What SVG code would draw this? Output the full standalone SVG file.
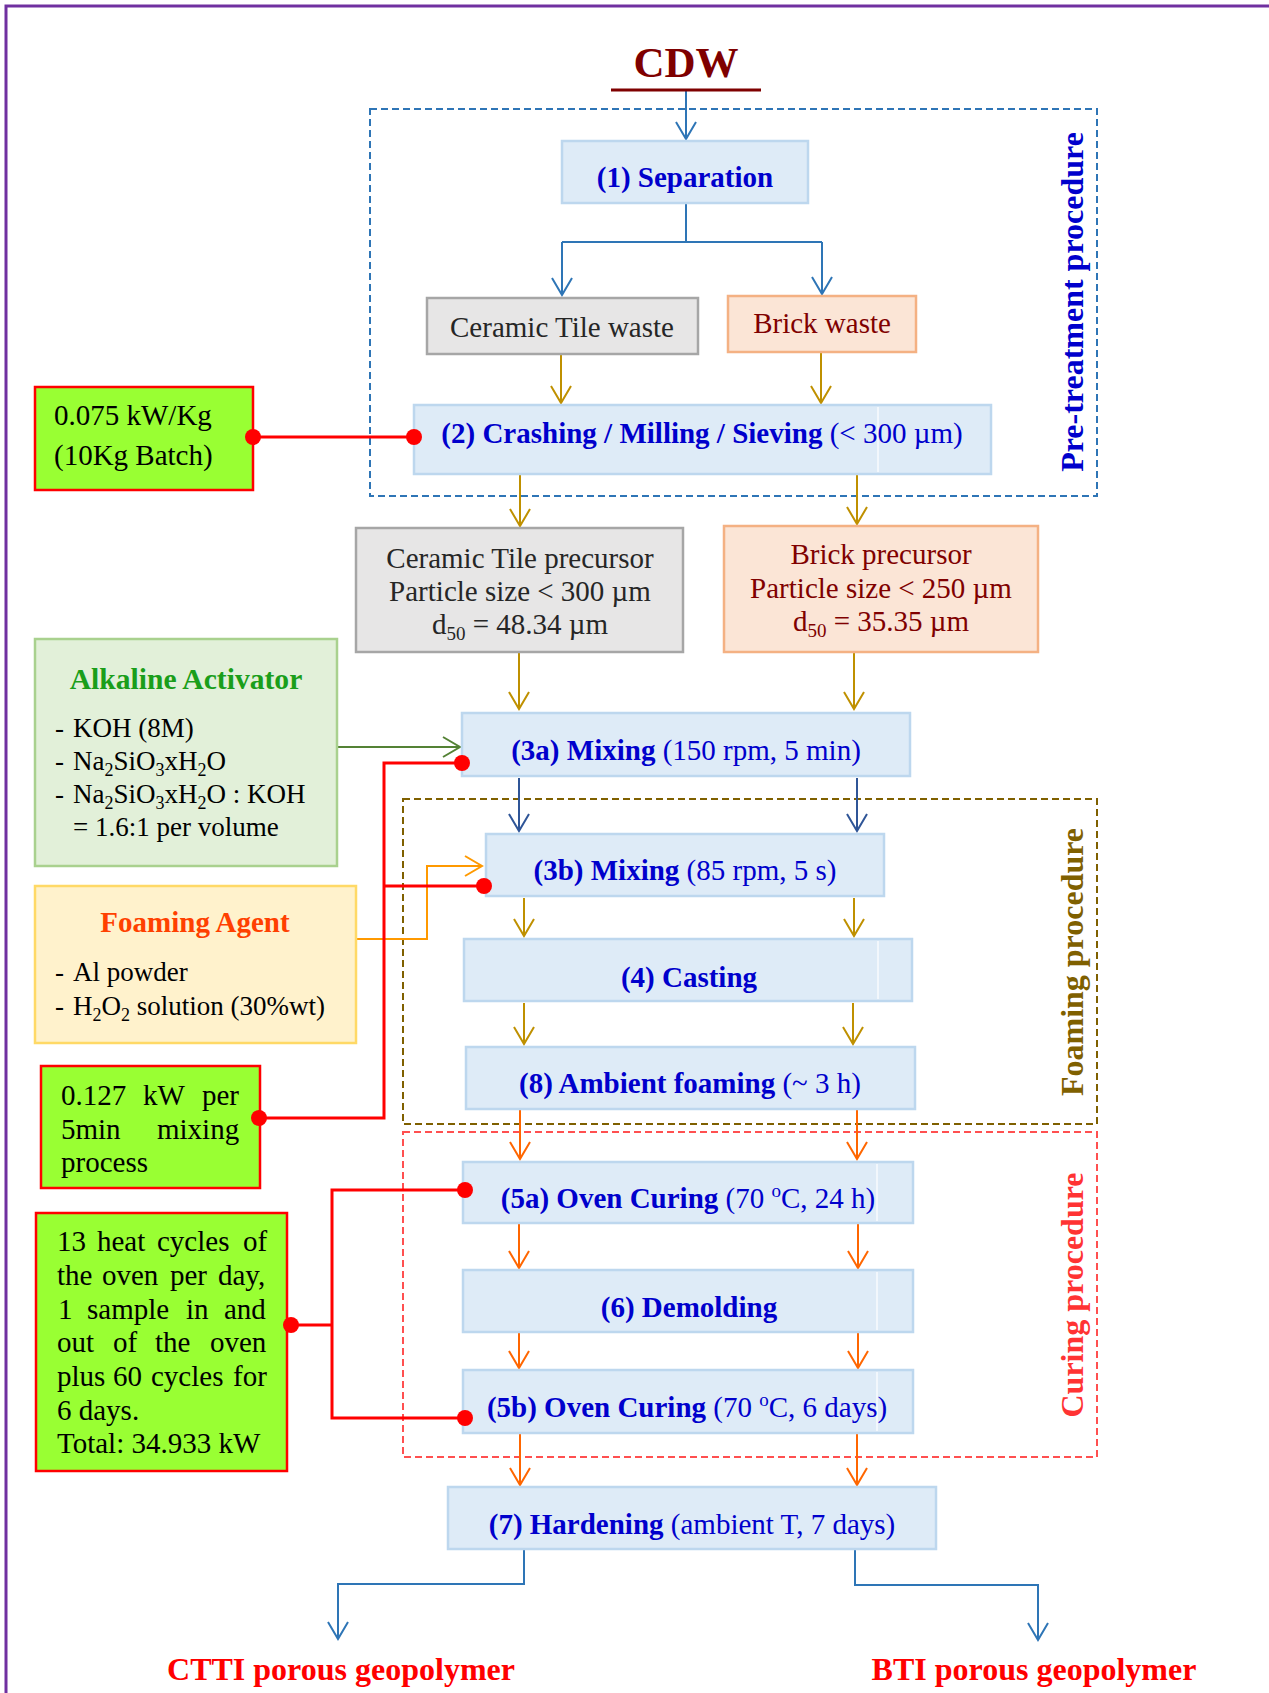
<svg xmlns="http://www.w3.org/2000/svg" width="1269" height="1693" viewBox="0 0 1269 1693">
<style>
text{font-family:"Liberation Serif","Times New Roman",serif;font-size:29px}
.b{font-weight:bold}
.blue{fill:#0000cc}
.t43{font-size:43px}
.t32{font-size:32px}
.t27{font-size:27px}
.t295{font-size:29.6px}
.step{fill:#deebf7;stroke:#bdd7ee;stroke-width:2.5}
.gray{fill:#e7e6e6;stroke:#a6a6a6;stroke-width:2.5}
.peach{fill:#fbe5d6;stroke:#f4b183;stroke-width:2.5}
.green{fill:#e2f0d9;stroke:#a9d18e;stroke-width:2.5}
.yellow{fill:#fff2cc;stroke:#ffd966;stroke-width:2.5}
.energy{fill:#99ff33;stroke:#ff0000;stroke-width:2.5}
.art{stroke:#ffffff;stroke-width:1.2}
.ln{fill:none;stroke-width:2}
.cb{stroke:#2e75b6}
.cg{stroke:#bf9000}
.cd{stroke:#2f5597}
.co{stroke:#ff6600}
.cgr{stroke:#548235}
.ca{stroke:#ff9900}
.red{fill:none;stroke:#ff0000;stroke-width:3}
.dot{fill:#ff0000}
.dash{fill:none;stroke-width:2;stroke-dasharray:7 4}
.vlab{font-size:32px;font-weight:bold}
</style>
<defs>
<marker id="aB" markerUnits="userSpaceOnUse" viewBox="-20 -12 22 24" refX="0" refY="0" markerWidth="22" markerHeight="24" orient="auto"><path d="M-17,-10 L0,0 L-17,10" fill="none" stroke="#2e75b6" stroke-width="2"/></marker>
<marker id="aG" markerUnits="userSpaceOnUse" viewBox="-20 -12 22 24" refX="0" refY="0" markerWidth="22" markerHeight="24" orient="auto"><path d="M-17,-10 L0,0 L-17,10" fill="none" stroke="#bf9000" stroke-width="2"/></marker>
<marker id="aD" markerUnits="userSpaceOnUse" viewBox="-20 -12 22 24" refX="0" refY="0" markerWidth="22" markerHeight="24" orient="auto"><path d="M-17,-10 L0,0 L-17,10" fill="none" stroke="#2f5597" stroke-width="2"/></marker>
<marker id="aO" markerUnits="userSpaceOnUse" viewBox="-20 -12 22 24" refX="0" refY="0" markerWidth="22" markerHeight="24" orient="auto"><path d="M-17,-10 L0,0 L-17,10" fill="none" stroke="#ff6600" stroke-width="2"/></marker>
<marker id="aGr" markerUnits="userSpaceOnUse" viewBox="-20 -12 22 24" refX="0" refY="0" markerWidth="22" markerHeight="24" orient="auto"><path d="M-17,-10 L0,0 L-17,10" fill="none" stroke="#548235" stroke-width="2"/></marker>
<marker id="aA" markerUnits="userSpaceOnUse" viewBox="-20 -12 22 24" refX="0" refY="0" markerWidth="22" markerHeight="24" orient="auto"><path d="M-17,-10 L0,0 L-17,10" fill="none" stroke="#ff9900" stroke-width="2"/></marker>
</defs>
<rect width="1269" height="1693" fill="#ffffff"/>
<path d="M6,1693 V6 H1269" fill="none" stroke="#7030a0" stroke-width="3"/>

<g id="groups">
<rect class="dash" x="370" y="109" width="727" height="387" stroke="#2e75b6"/>
<rect class="dash" x="403" y="799" width="694" height="325" stroke="#7f6000"/>
<rect class="dash" x="403" y="1132" width="694" height="325" stroke="#ff5050"/>
<text class="vlab" fill="#0000cc" transform="translate(1083,302) rotate(-90)" text-anchor="middle">Pre-treatment procedure</text>
<text class="vlab" fill="#7f6000" transform="translate(1083,962) rotate(-90)" text-anchor="middle">Foaming procedure</text>
<text class="vlab" fill="#ff3333" transform="translate(1083,1295) rotate(-90)" text-anchor="middle">Curing procedure</text>
</g>

<g id="connectors">
<path class="ln cb" d="M686,91 V139" marker-end="url(#aB)"/>
<path class="ln cb" d="M686,203 V242"/>
<path class="ln cb" d="M562,242 H822" stroke-width="3"/>
<path class="ln cb" d="M562,242 V295" marker-end="url(#aB)"/>
<path class="ln cb" d="M822,242 V294" marker-end="url(#aB)"/>
<path class="ln cg" d="M561,354 V403" marker-end="url(#aG)"/>
<path class="ln cg" d="M821,352 V403" marker-end="url(#aG)"/>
<path class="ln cg" d="M520,474 V526" marker-end="url(#aG)"/>
<path class="ln cg" d="M857,474 V524" marker-end="url(#aG)"/>
<path class="ln cg" d="M519,652 V709" marker-end="url(#aG)"/>
<path class="ln cg" d="M854,652 V709" marker-end="url(#aG)"/>
<path class="ln cgr" d="M337,747 H460" marker-end="url(#aGr)"/>
<path class="ln cd" d="M519,778 V831" marker-end="url(#aD)"/>
<path class="ln cd" d="M857,778 V831" marker-end="url(#aD)"/>
<path class="ln ca" d="M356,939 H427 V866 H482" marker-end="url(#aA)"/>
<path class="ln cg" d="M524,898 V936" marker-end="url(#aG)"/>
<path class="ln cg" d="M854,898 V936" marker-end="url(#aG)"/>
<path class="ln cg" d="M524,1003 V1044" marker-end="url(#aG)"/>
<path class="ln cg" d="M853,1003 V1044" marker-end="url(#aG)"/>
<path class="ln co" d="M520,1110 V1159" marker-end="url(#aO)"/>
<path class="ln co" d="M857,1110 V1159" marker-end="url(#aO)"/>
<path class="ln co" d="M519,1224 V1268" marker-end="url(#aO)"/>
<path class="ln co" d="M858,1224 V1268" marker-end="url(#aO)"/>
<path class="ln co" d="M519,1333 V1368" marker-end="url(#aO)"/>
<path class="ln co" d="M858,1333 V1368" marker-end="url(#aO)"/>
<path class="ln co" d="M520,1434 V1485" marker-end="url(#aO)"/>
<path class="ln co" d="M857,1434 V1485" marker-end="url(#aO)"/>
<path class="ln cb" d="M524,1550 V1584 H338 V1639" stroke-width="2.5" marker-end="url(#aB)"/>
<path class="ln cb" d="M855,1550 V1585 H1038 V1640" stroke-width="2.5" marker-end="url(#aB)"/>
<path class="red" d="M253,437 H414"/>
<path class="red" d="M259,1118 H384 V763 H462"/>
<path class="red" d="M384,886 H484"/>
<path class="red" d="M291,1325 H332"/>
<path class="red" d="M465,1190 H332 V1418 H465"/>
</g>

<g id="cdw">
<text x="686" y="77" text-anchor="middle" class="b t43" fill="#7f0000">CDW</text>
<path d="M611,90 H761" stroke="#7f0000" stroke-width="3"/>
</g>

<g id="separation">
<rect class="step" x="562" y="141" width="246" height="62"/>
<text x="685" y="187" text-anchor="middle" class="b blue">(1) Separation</text>
</g>

<g id="ceramic-waste">
<rect class="gray" x="427" y="298" width="271" height="56"/>
<text x="562" y="337" text-anchor="middle" fill="#262626">Ceramic Tile waste</text>
</g>

<g id="brick-waste">
<rect class="peach" x="728" y="296" width="188" height="56"/>
<text x="822" y="333" text-anchor="middle" fill="#800000">Brick waste</text>
</g>

<g id="crashing">
<rect class="step" x="414" y="405" width="577" height="69"/>
<line class="art" x1="878" y1="407" x2="878" y2="472"/>
<text x="702" y="443" text-anchor="middle" class="blue"><tspan class="b">(2) Crashing / Milling / Sieving</tspan> (&lt; 300 µm)</text>
</g>

<g id="energy-1">
<rect class="energy" x="35" y="387" width="218" height="103"/>
<text x="54" y="425">0.075 kW/Kg</text>
<text x="54" y="465">(10Kg Batch)</text>
<circle class="dot" cx="253" cy="437" r="8"/>
<circle class="dot" cx="414" cy="437" r="8"/>
</g>

<g id="ceramic-precursor">
<rect class="gray" x="356" y="528" width="327" height="124"/>
<text x="520" y="568" text-anchor="middle" fill="#262626">Ceramic Tile precursor</text>
<text x="520" y="601" text-anchor="middle" fill="#262626">Particle size &lt; 300 µm</text>
<text x="520" y="634" text-anchor="middle" fill="#262626">d<tspan dy="6" font-size="19">50</tspan><tspan dy="-6"> = 48.34 µm</tspan></text>
</g>

<g id="brick-precursor">
<rect class="peach" x="724" y="526" width="314" height="126"/>
<text x="881" y="564" text-anchor="middle" fill="#800000">Brick precursor</text>
<text x="881" y="598" text-anchor="middle" fill="#800000">Particle size &lt; 250 µm</text>
<text x="881" y="631" text-anchor="middle" fill="#800000">d<tspan dy="6" font-size="19">50</tspan><tspan dy="-6"> = 35.35 µm</tspan></text>
</g>

<g id="alkaline-activator">
<rect class="green" x="35" y="639" width="302" height="227"/>
<text x="186" y="689" text-anchor="middle" class="b t295" fill="#1a9e1a">Alkaline Activator</text>
<text class="t27" x="55" y="737">-</text><text class="t27" x="73" y="737">KOH (8M)</text>
<text class="t27" x="55" y="770">-</text><text class="t27" x="73" y="770">Na<tspan dy="6" font-size="18">2</tspan><tspan dy="-6">SiO</tspan><tspan dy="6" font-size="18">3</tspan><tspan dy="-6">xH</tspan><tspan dy="6" font-size="18">2</tspan><tspan dy="-6">O</tspan></text>
<text class="t27" x="55" y="803">-</text><text class="t27" x="73" y="803">Na<tspan dy="6" font-size="18">2</tspan><tspan dy="-6">SiO</tspan><tspan dy="6" font-size="18">3</tspan><tspan dy="-6">xH</tspan><tspan dy="6" font-size="18">2</tspan><tspan dy="-6">O : KOH</tspan></text>
<text class="t27" x="73" y="836">= 1.6:1 per volume</text>
</g>

<g id="mixing-3a">
<rect class="step" x="462" y="713" width="448" height="63"/>
<text x="686" y="760" text-anchor="middle" class="blue"><tspan class="b">(3a) Mixing</tspan> (150 rpm, 5 min)</text>
<circle class="dot" cx="462" cy="763" r="8"/>
</g>

<g id="mixing-3b">
<rect class="step" x="486" y="834" width="398" height="62"/>
<text x="685" y="880" text-anchor="middle" class="blue"><tspan class="b">(3b) Mixing</tspan> (85 rpm, 5 s)</text>
<circle class="dot" cx="484" cy="886" r="8"/>
</g>

<g id="foaming-agent">
<rect class="yellow" x="35" y="886" width="321" height="157"/>
<text x="195" y="932" text-anchor="middle" class="b" fill="#ff4000">Foaming Agent</text>
<text class="t27" x="55" y="981">-</text><text class="t27" x="73" y="981">Al powder</text>
<text class="t27" x="55" y="1015">-</text><text class="t27" x="73" y="1015">H<tspan dy="6" font-size="18">2</tspan><tspan dy="-6">O</tspan><tspan dy="6" font-size="18">2</tspan><tspan dy="-6"> solution (30%wt)</tspan></text>
</g>

<g id="casting">
<rect class="step" x="464" y="939" width="448" height="62"/>
<line class="art" x1="878" y1="941" x2="878" y2="999"/>
<text x="689" y="987" text-anchor="middle" class="b blue">(4) Casting</text>
</g>

<g id="ambient-foaming">
<rect class="step" x="466" y="1047" width="449" height="62"/>
<text x="690" y="1093" text-anchor="middle" class="blue"><tspan class="b">(8) Ambient foaming</tspan> (~ 3 h)</text>
</g>

<g id="energy-2">
<rect class="energy" x="41" y="1066" width="219" height="122"/>
<text y="1105"><tspan x="61">0.127</tspan><tspan x="143">kW</tspan><tspan x="202">per</tspan></text>
<text y="1139"><tspan x="61">5min</tspan><tspan x="157">mixing</tspan></text>
<text x="61" y="1172">process</text>
<circle class="dot" cx="259" cy="1118" r="8"/>
</g>

<g id="oven-curing-5a">
<rect class="step" x="463" y="1162" width="450" height="61"/>
<line class="art" x1="877" y1="1164" x2="877" y2="1221"/>
<text x="688" y="1208" text-anchor="middle" class="blue"><tspan class="b">(5a) Oven Curing</tspan> (70 <tspan dy="-11" font-size="19">o</tspan><tspan dy="11">C, 24 h)</tspan></text>
<circle class="dot" cx="465" cy="1190" r="8"/>
</g>

<g id="demolding">
<rect class="step" x="463" y="1270" width="450" height="62"/>
<line class="art" x1="877" y1="1272" x2="877" y2="1330"/>
<text x="689" y="1317" text-anchor="middle" class="b blue">(6) Demolding</text>
</g>

<g id="oven-curing-5b">
<rect class="step" x="463" y="1370" width="450" height="63"/>
<line class="art" x1="877" y1="1372" x2="877" y2="1431"/>
<text x="687" y="1417" text-anchor="middle" class="blue"><tspan class="b">(5b) Oven Curing</tspan> (70 <tspan dy="-11" font-size="19">o</tspan><tspan dy="11">C, 6 days)</tspan></text>
<circle class="dot" cx="465" cy="1418" r="8"/>
</g>

<g id="energy-3">
<rect class="energy" x="36" y="1213" width="251" height="258"/>
<text y="1251"><tspan x="57">13</tspan><tspan x="97">heat</tspan><tspan x="157">cycles</tspan><tspan x="243">of</tspan></text>
<text y="1285"><tspan x="57">the</tspan><tspan x="102">oven</tspan><tspan x="170">per</tspan><tspan x="218">day,</tspan></text>
<text y="1319"><tspan x="58">1</tspan><tspan x="87">sample</tspan><tspan x="186">in</tspan><tspan x="224">and</tspan></text>
<text y="1352"><tspan x="57">out</tspan><tspan x="113">of</tspan><tspan x="155">the</tspan><tspan x="210">oven</tspan></text>
<text y="1386"><tspan x="57">plus</tspan><tspan x="113">60</tspan><tspan x="151">cycles</tspan><tspan x="233">for</tspan></text>
<text x="57" y="1420">6 days.</text>
<text x="57" y="1453">Total: 34.933 kW</text>
<circle class="dot" cx="291" cy="1325" r="8"/>
</g>

<g id="hardening">
<rect class="step" x="448" y="1487" width="488" height="62"/>
<text x="692" y="1534" text-anchor="middle" class="blue"><tspan class="b">(7) Hardening</tspan> (ambient T, 7 days)</text>
</g>

<g id="ctti">
<text x="341" y="1680" text-anchor="middle" class="b t32" fill="#ff0000">CTTI porous geopolymer</text>
</g>
<g id="bti">
<text x="1034" y="1680" text-anchor="middle" class="b t32" fill="#ff0000">BTI porous geopolymer</text>
</g>
</svg>
